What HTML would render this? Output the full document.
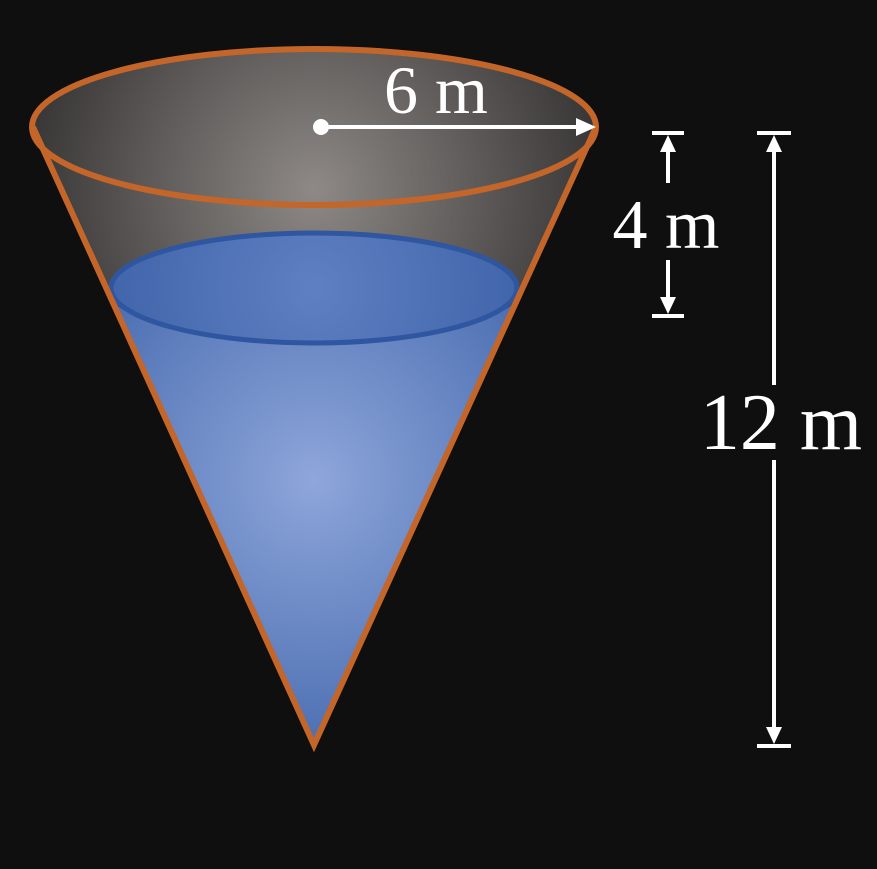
<!DOCTYPE html>
<html><head><meta charset="utf-8"><style>
html,body{margin:0;padding:0;background:#0f0f0f;}
svg{display:block;}
text{font-family:"Liberation Serif",serif;fill:#fff;}
</style></head><body>
<svg width="877" height="869" viewBox="0 0 877 869">
<defs>
<radialGradient id="gray" cx="314" cy="190" r="300" gradientUnits="userSpaceOnUse">
<stop offset="0" stop-color="#8e8986"/><stop offset="1" stop-color="#353333"/>
</radialGradient>
<radialGradient id="blue" cx="314" cy="480" r="330" gradientUnits="userSpaceOnUse">
<stop offset="0" stop-color="#8ea6da"/><stop offset="1" stop-color="#3d62a8"/>
</radialGradient>
<radialGradient id="blueTop" cx="314" cy="288" r="220" gradientUnits="userSpaceOnUse">
<stop offset="0" stop-color="#5f80c2"/><stop offset="1" stop-color="#3f63a9"/>
</radialGradient>
</defs>
<rect width="877" height="869" fill="#0f0f0f"/>
<g>
<path d="M33,127 L314,745 L596,127 Z" fill="url(#gray)"/>
<ellipse cx="314" cy="127" rx="282" ry="78" fill="url(#gray)"/>
</g>
<g>
<path d="M106,288 L314,745 L522,288 A208,55 0 0 1 106,288 Z" fill="url(#blue)"/>
<ellipse cx="314" cy="288" rx="203" ry="55" fill="url(#blueTop)" stroke="#2f56a0" stroke-width="5"/>
</g>
<path d="M33,127 L314,745 L596,127" fill="none" stroke="#c4652a" stroke-width="6" stroke-linejoin="miter"/>
<ellipse cx="314" cy="127" rx="282" ry="78" fill="none" stroke="#c4652a" stroke-width="6"/>
<g>
<circle cx="321" cy="127" r="8" fill="#fff"/>
<line x1="321" y1="127" x2="580" y2="127" stroke="#fff" stroke-width="4"/>
<path d="M596,127 L576,118 L576,136 Z" fill="#fff"/>
</g>
<text x="436" y="113" font-size="68" text-anchor="middle">6 m</text>
<g stroke="#fff" stroke-width="4">
<line x1="652" y1="133" x2="684" y2="133"/>
<line x1="652" y1="316" x2="684" y2="316"/>
<line x1="668" y1="148" x2="668" y2="183"/>
<line x1="668" y1="260" x2="668" y2="300"/>
<path d="M668,135 L660,152 L676,152 Z" fill="#fff" stroke="none"/>
<path d="M668,314 L660,297 L676,297 Z" fill="#fff" stroke="none"/>
</g>
<text x="666" y="248" font-size="70" text-anchor="middle">4 m</text>
<g stroke="#fff" stroke-width="4">
<line x1="757" y1="133" x2="791" y2="133"/>
<line x1="757" y1="746" x2="791" y2="746"/>
<line x1="774" y1="148" x2="774" y2="385"/>
<line x1="774" y1="460" x2="774" y2="730"/>
<path d="M774,135 L766,152 L782,152 Z" fill="#fff" stroke="none"/>
<path d="M774,744 L766,727 L782,727 Z" fill="#fff" stroke="none"/>
</g>
<text x="781" y="449" font-size="80" text-anchor="middle">12 m</text>
</svg>
</body></html>
